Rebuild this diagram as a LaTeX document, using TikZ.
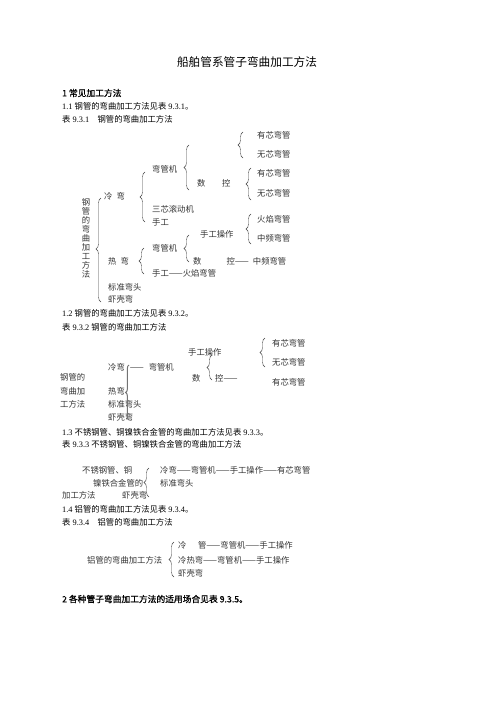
\documentclass[tikz,border=0pt]{standalone}
\usepackage{fontspec}
\setmainfont{Liberation Serif}
\newfontfamily\cjk{Noto Sans CJK SC}
\newfontfamily\cjkhead[FakeBold=1]{Noto Sans CJK SC}
\usetikzlibrary{decorations.pathreplacing}
\newcommand\zh[1]{{\cjk #1}}
\tikzstyle{word}=[anchor=west,inner sep=0pt,font=\cjk\fontsize{10}{12}\selectfont,text=black!80]
\tikzstyle{para}=[anchor=west,inner sep=0pt,font=\fontsize{10}{12}\selectfont]
\tikzstyle{heading}=[anchor=west,inner sep=0pt,font=\cjkhead\fontsize{10.5}{12}\selectfont]
\tikzstyle{curly}=[draw=black!75,line width=0.5pt,decorate]

\begin{document}
\begin{tikzpicture}[x=1.2pt,y=-1.2pt]
	\useasboundingbox (0,0) rectangle (496,702);

	% Title and running text
	\node[font=\cjk\fontsize{14}{16}\selectfont,inner sep=0pt] (title) at (247,62) {船舶管系管子弯曲加工方法};
	\foreach \pos/\name/\txt in {{(62,93)/h1/{1 常见加工方法}}, {(62,599)/h2/{2 各种管子弯曲加工方法的适用场合见表 9.3.5。}}}
	\node[heading] (\name) at \pos {\txt};
	\foreach \pos/\name/\txt in {{(62,106)/p11/{1.1 \zh{钢管的弯曲加工方法见表} 9.3.1\zh{。}}},
								{(62,119)/t1/{\zh{表} 9.3.1\hspace{1em}\zh{钢管的弯曲加工方法}}},
								{(62,313)/p12/{1.2 \zh{钢管的弯曲加工方法见表} 9.3.2\zh{。}}},
								{(62,327)/t2/{\zh{表} 9.3.2 \zh{钢管的弯曲加工方法}}},
								{(62,432)/p13/{1.3 \zh{不锈钢管、铜镍铁合金管的弯曲加工方法见表} 9.3.3\zh{。}}},
								{(62,444)/t3/{\zh{表} 9.3.3 \zh{不锈钢管、铜镍铁合金管的弯曲加工方法}}},
								{(62,509)/p14/{1.4 \zh{铝管的弯曲加工方法见表} 9.3.4\zh{。}}},
								{(62,522)/t4/{\zh{表} 9.3.4\hspace{1em}\zh{铝管的弯曲加工方法}}}}
	\node[para] (\name) at \pos {\txt};

	% Table 9.3.1
	\foreach \c [count=\i] in {钢,管,的,弯,曲,加,工,方,法}
	\node[word,anchor=center] (v\i) at (86,193+9*\i) {\c};
	\foreach \pos/\name/\txt in {{(257,135)/a1/有芯弯管}, {(257,154)/a2/无芯弯管}, {(152,169)/a3/弯管机},
								{(197,183)/a4/{数\hspace{2em}控}}, {(257,173)/a5/有芯弯管}, {(257,193)/a6/无芯弯管},
								{(104,196)/a7/{冷\hspace{0.5em}弯}}, {(152,209)/a8/三芯滚动机}, {(152,222)/a9/手工},
								{(257,219)/a10/火焰弯管}, {(257,238)/a11/中频弯管}, {(200,234)/a12/手工操作},
								{(152,248)/a13/弯管机}, {(193,261)/a14/{数\hspace{3em}控——\hspace{0.5em}中频弯管}},
								{(108,261)/a15/{热\hspace{0.5em}弯}}, {(152,273)/a16/手工——火焰弯管},
								{(108,287)/a17/标准弯头}, {(108,299)/a18/虾壳弯}}
	\node[word] (\name) at \pos {\txt};

	% Table 9.3.2
	\foreach \pos/\name/\txt in {{(188,352)/b1/手工操作}, {(272,343)/b2/有芯弯管}, {(272,362)/b3/无芯弯管},
								{(108,367)/b4/{冷弯\hspace{0.6em}——\hspace{0.6em}弯管机}}, {(192,378)/b5/数},
								{(215,378)/b6/控——}, {(272,382)/b7/有芯弯管}, {(60,377)/b8/钢管的},
								{(60,391)/b9/弯曲加}, {(60,404)/b10/工方法}, {(108,391)/b11/热弯},
								{(108,404)/b12/标准弯头}, {(108,417)/b13/虾壳弯}}
	\node[word] (\name) at \pos {\txt};

	% Table 9.3.3
	\foreach \pos/\name/\txt in {{(82,470)/c1/不锈钢管、铜}, {(93,483)/c2/镍铁合金管的}, {(62,495)/c3/加工方法},
								{(122,495)/c4/虾壳弯}, {(160,470)/c5/冷弯——弯管机——手工操作——有芯弯管},
								{(160,483)/c6/标准弯头}}
	\node[word] (\name) at \pos {\txt};

	% Table 9.3.4
	\foreach \pos/\name/\txt in {{(87,560)/d1/铝管的弯曲加工方法}, {(178,545)/d2/{冷\hspace{1.4em}管——弯管机——手工操作}},
								{(178,560)/d3/冷热弯——弯管机——手工操作}, {(178,573)/d4/虾壳弯}}
	\node[word] (\name) at \pos {\txt};

	% Braces
	\foreach \x/\top/\bot/\asp in {243/132/158/0.5, 189/145/190/0.5, 251/168/200/0.5, 145/172/222/0.5,
								251/214/244/0.5, 189/235/262/0.5, 144/248/274/0.5, 101/198/302/0.51,
								265/338/367/0.5, 212/355/380/0.5, 149/468/497/0.5, 174/542/577/0.5}
	\draw[curly,decoration={brace,amplitude=6pt,aspect=\asp}] (\x,\bot) -- (\x,\top);
	\draw[curly,draw=black!55,line width=1.2pt,decoration={brace,amplitude=4pt,aspect=0.5}] (129,420) -- (129,365);

\end{tikzpicture}
\end{document}
